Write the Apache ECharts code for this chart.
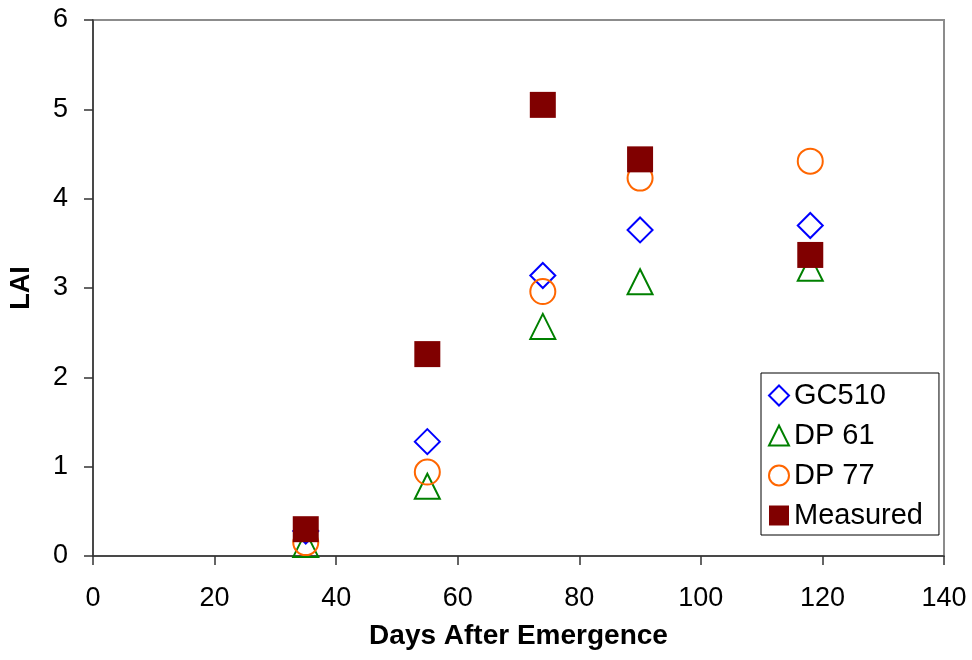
<!DOCTYPE html>
<html>
<head>
<meta charset="utf-8">
<script src="https://cdn.jsdelivr.net/npm/echarts@6/dist/echarts.min.js"></script>
<style>
  html, body { margin: 0; padding: 0; background: #fff; }
  #chart { width: 972px; height: 660px; }
</style>
</head>
<body>
<div id="chart"></div>
<script>
// Days after emergence at which LAI was sampled / simulated
const days = [35, 55, 74, 90, 118];

// Leaf area index per cultivar simulation and field measurement
const gc510 = [0.28, 1.28, 3.14, 3.65, 3.70];
const dp61 = [0.13, 0.78, 2.57, 3.07, 3.22];
const dp77 = [0.15, 0.94, 2.96, 4.23, 4.42];
const measured = [0.30, 2.26, 5.05, 4.44, 3.37];

const seriesNames = ['GC510', 'DP 61', 'DP 77', 'Measured'];

const FONT = '"Liberation Sans", Arial, sans-serif';

function pairs(values) {
  return days.map((d, i) => [d, values[i]]);
}

// Outline-only marker series
function hollow(name, values, symbol, color, size) {
  return {
    name: name,
    type: 'scatter',
    data: pairs(values),
    symbol: symbol,
    symbolSize: size,
    itemStyle: { color: 'rgba(255,255,255,0)', opacity: 1, borderColor: color, borderWidth: 2 },
    emphasis: { disabled: true }
  };
}

const chart = echarts.init(document.getElementById('chart'), null, { renderer: 'canvas' });

chart.setOption({
  animation: false,
  backgroundColor: '#ffffff',
  grid: {
    left: 92, right: 28, top: 20, bottom: 104,
    show: true, borderColor: '#8c8c8c', borderWidth: 2, backgroundColor: 'transparent'
  },
  xAxis: {
    type: 'value',
    min: 0, max: 140, interval: 20,
    name: 'Days After Emergence',
    nameLocation: 'middle',
    nameGap: 66,
    nameTextStyle: { fontFamily: FONT, fontSize: 28, fontWeight: 'bold', color: '#000' },
    axisLine: { show: true, onZero: false, lineStyle: { color: '#333', width: 1.5 } },
    axisTick: { show: true, inside: false, length: 9, lineStyle: { color: '#333', width: 1.5 } },
    axisLabel: { fontFamily: FONT, fontSize: 27, color: '#000', margin: 29 },
    splitLine: { show: false }
  },
  yAxis: {
    type: 'value',
    min: 0, max: 6, interval: 1,
    name: 'LAI',
    nameLocation: 'middle',
    nameGap: 58,
    nameTextStyle: { fontFamily: FONT, fontSize: 27, fontWeight: 'bold', color: '#000' },
    axisLine: { show: true, onZero: false, lineStyle: { color: '#333', width: 1.5 } },
    axisTick: { show: true, inside: false, length: 9, lineStyle: { color: '#333', width: 1.5 } },
    axisLabel: { fontFamily: FONT, fontSize: 27, color: '#000', margin: 25 },
    splitLine: { show: false }
  },
  legend: {
    data: seriesNames,
    orient: 'vertical',
    left: 761,
    top: 373,
    padding: [8, 16, 5, 7],
    itemGap: 11,
    itemWidth: 20,
    itemHeight: 20,
    borderColor: '#000',
    borderWidth: 1,
    backgroundColor: '#fff',
    textStyle: { fontFamily: FONT, fontSize: 29, color: '#000' }
  },
  series: [
    hollow('GC510', gc510, 'diamond', '#0000ff', 25),
    hollow('DP 61', dp61, 'triangle', '#008000', 25),
    hollow('DP 77', dp77, 'circle', '#ff6600', 25),
    {
      name: 'Measured',
      type: 'scatter',
      data: pairs(measured),
      symbol: 'rect',
      symbolSize: 26,
      itemStyle: { color: '#800000', opacity: 1 },
      emphasis: { disabled: true }
    }
  ]
});
</script>
</body>
</html>
